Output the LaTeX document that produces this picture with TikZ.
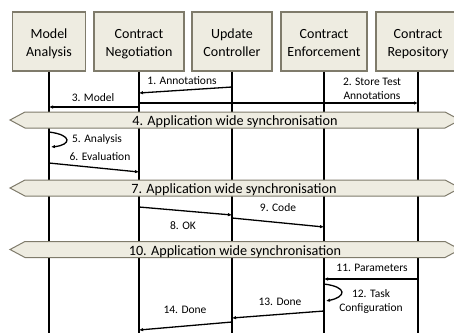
\documentclass[tikz,border=0pt]{standalone}
\usepackage{fontspec}
\setmainfont{Carlito}
\usetikzlibrary{arrows.meta}
\definecolor{boxfill}{HTML}{EEECE1}
\definecolor{boxline}{HTML}{7F7B6B}
\newcommand\topstrut{\rule{0pt}{15.7pt}}
\newcommand\botstrut{\rule[-4pt]{0pt}{4pt}}
\begin{document}
\begin{tikzpicture}[x=1pt,y=-1pt,
  actor/.style={draw=boxline, fill=boxfill, line width=1.2pt, minimum height=59pt, align=center, font=\fontsize{14}{17.7}\selectfont, inner sep=0pt},
  lifeline/.style={line width=1.6pt},
  msg/.style={line width=1.3pt, -{Latex[length=4pt,width=3.5pt]}},
  lbl/.style={font=\fontsize{11.5}{14}\selectfont, anchor=base, align=center, inner sep=0pt},
  syncbar/.style={draw=boxline, fill=boxfill, line width=1pt},
  synclbl/.style={font=\fontsize{14.2}{17}\selectfont, anchor=base, inner sep=0pt}]
\useasboundingbox (0,0) rectangle (454,332);
\clip (0,0) rectangle (454,332);
% actors
\node[actor, minimum width=73pt] (ma) at (49,41.5) {\topstrut Model\\Analysis\botstrut};
\node[actor, minimum width=90pt] (cn) at (139,41.5) {\topstrut Contract\\Negotiation\botstrut};
\node[actor, minimum width=80pt] (uc) at (232,41.5) {\topstrut Update\\Controller\botstrut};
\node[actor, minimum width=86pt] (ce) at (324,41.5) {\topstrut Contract\\Enforcement\botstrut};
\node[actor, minimum width=84pt] (cr) at (418,41.5) {\topstrut Contract\\Repository\botstrut};
% lifeline ends
\coordinate (maE) at (49,333);
\coordinate (cnE) at (139,333);
\coordinate (ucE) at (232,333);
\coordinate (ceE) at (324,333);
\coordinate (crE) at (418,333);
\foreach \a in {ma,cn,uc,ce,cr} \draw[lifeline] (\a.south) -- (\a E);
% sync bars
\draw[syncbar] (10,120) -- (25,112) -- (445,112) -- (460,120) -- (445,128) -- (25,128) -- cycle;
\node[synclbl] (s4) at (235,125.5) {4. Application wide synchronisation};
\draw[syncbar] (10,188) -- (25,180) -- (445,180) -- (460,188) -- (445,196) -- (25,196) -- cycle;
\node[synclbl] (s7) at (234,193.5) {7. Application wide synchronisation};
\draw[syncbar] (10,249.5) -- (25,241.5) -- (445,241.5) -- (460,249.5) -- (445,257.5) -- (25,257.5) -- cycle;
\node[synclbl] (s10) at (235,255) {10. Application wide synchronisation};
% message points
\coordinate (m1a) at (232,87);  \coordinate (m1b) at (139,93);
\coordinate (m2a) at (139,103); \coordinate (m2b) at (418,103);
\coordinate (m3a) at (139,107); \coordinate (m3b) at (49,107);
\coordinate (m5a) at (49,132);  \coordinate (m5b) at (51,147);
\coordinate (m6a) at (49,163);  \coordinate (m6b) at (139,172);
\coordinate (m8a) at (139,207); \coordinate (m8b) at (232,215);
\coordinate (m9a) at (232,218); \coordinate (m9b) at (324,227);
\coordinate (m11a) at (418,279); \coordinate (m11b) at (324,279);
\coordinate (m12a) at (324,284); \coordinate (m12b) at (326,301);
\coordinate (m13a) at (324,311); \coordinate (m13b) at (232,318);
\coordinate (m14a) at (232,322); \coordinate (m14b) at (139,330);
% messages
\draw[msg] (m1a) -- (m1b);
\draw[msg] (m2a) -- (m2b);
\draw[msg] (m3a) -- (m3b);
\draw[msg] (m5a) .. controls (73,135) and (71,145) .. (m5b);
\draw[msg] (m6a) -- (m6b);
\draw[msg] (m8a) -- (m8b);
\draw[msg] (m9a) -- (m9b);
\draw[msg] (m11a) -- (m11b);
\draw[msg] (m12a) .. controls (348,287) and (346,297) .. (m12b);
\draw[msg] (m13a) -- (m13b);
\draw[msg] (m14a) -- (m14b);
% labels
\node[lbl] (l1) at (182,84) {1. Annotations};
\node[lbl] (l2) at (372,99) {2. Store Test\\Annotations};
\node[lbl] (l3) at (93,101) {3. Model};
\node[lbl] (l5) at (97,142) {5. Analysis};
\node[lbl] (l6) at (100,160) {6. Evaluation};
\node[lbl] (l9) at (278,211) {9. Code};
\node[lbl] (l8) at (183,229) {8. OK};
\node[lbl] (l11) at (372,271) {11. Parameters};
\node[lbl] (l12) at (371,311) {12. Task\\Configuration};
\node[lbl] (l13) at (280,305) {13. Done};
\node[lbl] (l14) at (185,313) {14. Done};
\end{tikzpicture}
\end{document}
